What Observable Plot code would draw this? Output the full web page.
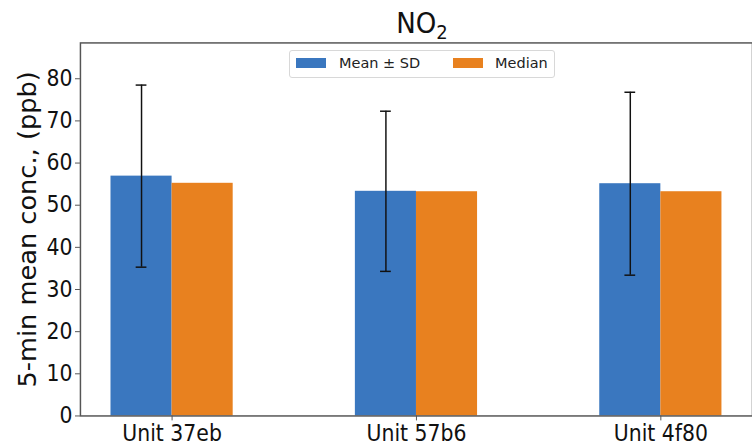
<!DOCTYPE html>
<html>
<head>
<meta charset="utf-8">
<script src="https://cdn.jsdelivr.net/npm/d3@7"></script>
<script src="https://cdn.jsdelivr.net/npm/@observablehq/plot@0.6"></script>
<style>
  html, body { margin: 0; padding: 0; background: #fff; overflow: hidden; }
  #wrap { position: relative; width: 752px; height: 448px; overflow: hidden; }
  .title { position: absolute; left: 322px; width: 200px; top: 6px; text-align: center;
    font-family: "DejaVu Sans Condensed"; font-size: 29px; line-height: 34px; color: #111; }
  .title sub { font-size: 20px; vertical-align: -6px; line-height: 0; }
  .legend { position: absolute; left: 289px; top: 50px; width: 264px; height: 26px;
    border: 1px solid #d8d8d8; border-radius: 3px; background: rgba(255,255,255,0.85);
    font-family: "DejaVu Sans"; font-size: 14.5px; color: #222; }
  .legend .sw { position: absolute; top: 7px; width: 30px; height: 10px; }
  .legend .lb { position: absolute; top: 3px; line-height: 18px; white-space: nowrap; }
</style>
</head>
<body>
<div id="wrap"></div>
<script>
const titleMain = "NO";
const titleSub = "2";
const yLabel = "5-min mean conc., (ppb)";
const units = ["Unit 37eb", "Unit 57b6", "Unit 4f80"];
const means = [56.9, 53.3, 55.1];
const medians = [55.2, 53.2, 53.2];
const sds = [21.6, 19.0, 21.7];
const yTicks = [0, 10, 20, 30, 40, 50, 60, 70, 80];
const seriesNames = ["Mean ± SD", "Median"];
const colors = ["#3a77bf", "#e8811f"];

const rows = units.map((u, i) => ({unit: u, i, mean: means[i], median: medians[i], sd: sds[i]}));
const W = 0.25;      // bar width in category units
const cap = 0.022;   // half cap width in category units

const chart = Plot.plot({
  width: 762,
  height: 448,
  marginLeft: 81,
  marginRight: 0,
  marginTop: 43,
  marginBottom: 27,
  x: {domain: [-0.375, units.length - 1 + 0.375], axis: null},
  y: {domain: [0, 88.5], axis: null},
  style: {fontFamily: "DejaVu Sans Condensed", background: "white", color: "#111"},
  marks: [
    Plot.rectY(rows, {x1: d => d.i - W, x2: d => d.i, y: "mean", fill: colors[0]}),
    Plot.rectY(rows, {x1: d => d.i, x2: d => d.i + W, y: "median", fill: colors[1]}),
    Plot.ruleX(rows, {x: d => d.i - W / 2, y1: d => d.mean - d.sd, y2: d => d.mean + d.sd, stroke: "#111", strokeWidth: 1.5}),
    Plot.ruleY(rows, {x1: d => d.i - W / 2 - cap, x2: d => d.i - W / 2 + cap, y: d => d.mean + d.sd, stroke: "#111", strokeWidth: 1.5}),
    Plot.ruleY(rows, {x1: d => d.i - W / 2 - cap, x2: d => d.i - W / 2 + cap, y: d => d.mean - d.sd, stroke: "#111", strokeWidth: 1.5}),
    Plot.frame({stroke: "#555", strokeWidth: 1.5}),
    Plot.axisY({ticks: yTicks, tickSize: 5, tickPadding: 3, fontSize: 23, label: null, stroke: "#555"}),
    Plot.axisX({ticks: units.map((u, i) => i), tickFormat: i => units[i], tickSize: 5, tickPadding: 4, fontSize: 23, label: null, stroke: "#555"}),
    Plot.text([yLabel], {frameAnchor: "left", dx: -53, dy: 0, rotate: -90, textAnchor: "middle", lineAnchor: "middle", fontSize: 26, fontFamily: "DejaVu Sans", fill: "#111"})
  ]
});

const wrap = document.getElementById("wrap");
wrap.appendChild(chart);

const t = document.createElement("div");
t.className = "title";
t.appendChild(document.createTextNode(titleMain));
const sub = document.createElement("sub");
sub.textContent = titleSub;
t.appendChild(sub);
wrap.appendChild(t);

const legend = document.createElement("div");
legend.className = "legend";
const swX = [6, 163], lbX = [49, 205];
seriesNames.forEach((name, k) => {
  const sw = document.createElement("div");
  sw.className = "sw";
  sw.style.left = swX[k] + "px";
  sw.style.background = colors[k];
  const lb = document.createElement("div");
  lb.className = "lb";
  lb.style.left = lbX[k] + "px";
  lb.textContent = name;
  legend.appendChild(sw);
  legend.appendChild(lb);
});
wrap.appendChild(legend);
</script>
</body>
</html>
